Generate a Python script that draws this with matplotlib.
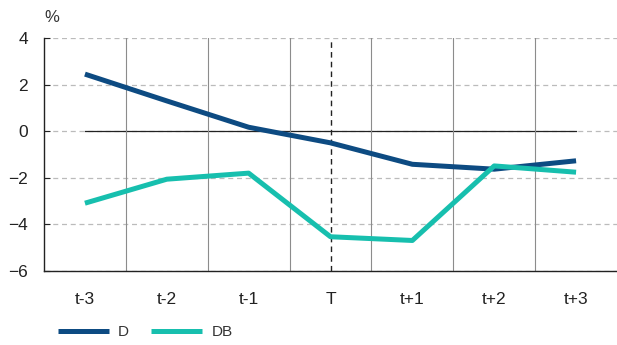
import matplotlib.pyplot as plt
import numpy as np

periods = ['t-3', 't-2', 't-1', 'T', 't+1', 't+2', 't+3']
d_values = [2.45, 1.3, 0.17, -0.5, -1.42, -1.63, -1.27]
db_values = [-3.09, -2.06, -1.8, -4.53, -4.69, -1.49, -1.76]
y_ticks = [-6, -4, -2, 0, 2, 4]

d_color = '#0d4b82'
db_color = '#17bfae'

plt.rcParams['font.family'] = ['Liberation Sans', 'DejaVu Sans']

fig = plt.figure(figsize=(6.17, 3.45), dpi=100)
ax = fig.add_axes([44 / 617, 74 / 345, 573 / 617, 233 / 345])

x = np.arange(len(periods))

# dashed horizontal grid
for y in y_ticks:
    ax.axhline(y, color='#bbbbbb', lw=0.9, ls=(0, (4, 3)), zorder=0)

# zero line across the periods only
ax.plot([x[0], x[-1]], [0, 0], color='#222222', lw=0.9, zorder=1)

# separators between periods
for b in x[:-1] + 0.5:
    ax.axvline(b, color='#8c8c8c', lw=0.8, zorder=1)

# event marker at T
ax.axvline(periods.index('T'), color='#222222', lw=1.0, ls=(0, (4, 3)), zorder=1)

ax.plot(x, d_values, color=d_color, lw=3.6, label='D', zorder=3, solid_capstyle='butt')
ax.plot(x, db_values, color=db_color, lw=3.6, label='DB', zorder=3, solid_capstyle='butt')

ax.set_xlim(-0.5, len(periods) - 0.5)
ax.set_ylim(-6, 4)
ax.set_yticks(y_ticks)
ax.set_xticks(x)
ax.set_xticklabels(periods)
ax.tick_params(axis='x', length=0, pad=15, labelsize=12.5, colors='#222222')
ax.tick_params(axis='y', direction='in', length=4, pad=11.5, labelsize=12.5, colors='#222222')

for side in ['top', 'right']:
    ax.spines[side].set_visible(False)
for side in ['left', 'bottom']:
    ax.spines[side].set_color('#222222')
    ax.spines[side].set_linewidth(1.0)

fig.text(52 / 617, 1 - 18 / 345, '%', fontsize=12, color='#333333', va='center', ha='center')

leg = fig.legend(loc='center left', bbox_to_anchor=(58 / 617, 1 - 332 / 345), ncol=2,
                 frameon=False, handlelength=3.34, handletextpad=0.6, columnspacing=1.45,
                 borderpad=0.0, borderaxespad=0.0,
                 prop={'family': ['Liberation Sans Narrow', 'Liberation Sans'], 'size': 11})
for t in leg.get_texts():
    t.set_color('#333333')

fig.savefig('out.png', dpi=100)
